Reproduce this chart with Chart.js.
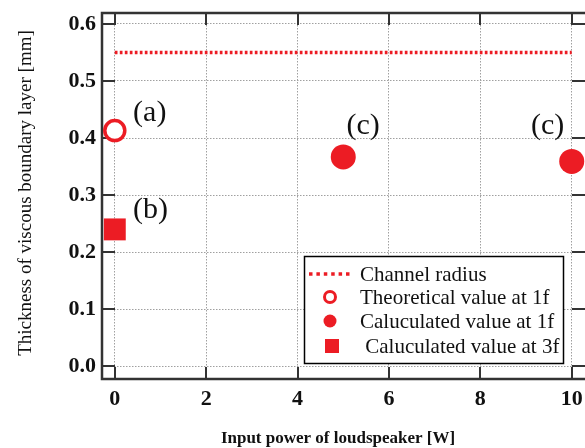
<!DOCTYPE html>
<html>
<head>
<meta charset="utf-8">
<script src="https://cdn.jsdelivr.net/npm/chart.js@4.4.4/dist/chart.umd.min.js"></script>
<style>
  html, body { margin: 0; padding: 0; background: #fff; overflow: hidden; }
  #wrap { width: 600px; height: 448px; }
</style>
</head>
<body>
<div id="wrap"><canvas id="chart" width="600" height="448"></canvas></div>
<script>
// data
const radiusX = [0, 10];
const radiusY = [0.55, 0.55];
const theoX = [0];
const theoY = [0.413];
const calc1fX = [5, 10];
const calc1fY = [0.367, 0.359];
const calc3fX = [0];
const calc3fY = [0.240];

const xTicks = [0, 2, 4, 6, 8, 10];
const yTicks = [0, 0.1, 0.2, 0.3, 0.4, 0.5, 0.6];

const noteText = ['(a)', '(b)', '(c)', '(c)'];
const noteX = [0.40, 0.40, 5.07, 9.11];
const noteY = [0.4445, 0.2735, 0.421, 0.421];

const legendText = ['Channel radius', 'Theoretical value at 1f', 'Caluculated value at 1f', ' Caluculated value at 3f'];

const RED = '#ec1c24';
const SERIF = "'Liberation Serif', 'Times New Roman', serif";

const toPts = (xs, ys) => xs.map((x, i) => ({ x, y: ys[i] }));

// frame with inward ticks, drawn under the marks
const framePlugin = {
  id: 'frame',
  beforeDatasetsDraw(chart) {
    const { ctx, chartArea: a, scales: { x, y } } = chart;
    ctx.save();
    ctx.strokeStyle = '#333';
    ctx.lineWidth = 2;
    ctx.beginPath();
    xTicks.forEach(v => {
      const px = Math.round(x.getPixelForValue(v));
      ctx.moveTo(px, a.bottom); ctx.lineTo(px, a.bottom - 12);
      ctx.moveTo(px, a.top); ctx.lineTo(px, a.top + 12);
    });
    yTicks.forEach(v => {
      const py = Math.round(y.getPixelForValue(v));
      ctx.moveTo(a.left, py); ctx.lineTo(a.left + 13, py);
      ctx.moveTo(a.right, py); ctx.lineTo(a.right - 18, py);
    });
    ctx.stroke();
    ctx.lineWidth = 2.5;
    ctx.strokeRect(a.left, a.top, a.right - a.left, a.bottom - a.top);
    ctx.restore();
  },
  afterDraw(chart) {
    const { ctx, scales: { x, y } } = chart;
    ctx.save();

    // (a) (b) (c) notes
    ctx.fillStyle = '#111';
    ctx.font = '30px ' + SERIF;
    ctx.textAlign = 'left';
    ctx.textBaseline = 'middle';
    noteText.forEach((t, i) => {
      ctx.fillText(t, x.getPixelForValue(noteX[i]), y.getPixelForValue(noteY[i]));
    });

    // legend box
    const bx = 304.5, by = 256.5, bw = 259, bh = 107;
    ctx.fillStyle = '#fff';
    ctx.fillRect(bx, by, bw, bh);
    ctx.strokeStyle = '#000';
    ctx.lineWidth = 1.5;
    ctx.strokeRect(bx, by, bw, bh);

    const rows = [274, 297, 321, 346];
    // dotted line
    ctx.strokeStyle = RED;
    ctx.lineWidth = 3.5;
    ctx.setLineDash([3.5, 3.9]);
    ctx.beginPath();
    ctx.moveTo(309, rows[0]); ctx.lineTo(350, rows[0]);
    ctx.stroke();
    ctx.setLineDash([]);
    // open circle
    ctx.lineWidth = 3;
    ctx.beginPath();
    ctx.arc(330, rows[1], 5.5, 0, Math.PI * 2);
    ctx.fillStyle = '#fff';
    ctx.fill();
    ctx.stroke();
    // filled circle
    ctx.fillStyle = RED;
    ctx.beginPath();
    ctx.arc(330, rows[2], 6.5, 0, Math.PI * 2);
    ctx.fill();
    // square
    ctx.fillRect(325, rows[3] - 7, 14, 14);

    ctx.fillStyle = '#111';
    ctx.font = '21px ' + SERIF;
    ctx.textBaseline = 'middle';
    legendText.forEach((t, i) => ctx.fillText(t, 360, rows[i] + 1));

    // axis titles
    ctx.textAlign = 'center';
    ctx.textBaseline = 'alphabetic';
    ctx.font = 'bold 17px ' + SERIF;
    ctx.fillText('Input power of loudspeaker [W]', 338, 442.5);

    ctx.save();
    ctx.translate(31, 193);
    ctx.rotate(-Math.PI / 2);
    ctx.font = '19px ' + SERIF;
    ctx.fillText('Thickness of viscous boundary layer [mm]', 0, 0);
    ctx.restore();

    ctx.restore();
  }
};

const tickFont = { family: SERIF, size: 22, weight: 'bold', lineHeight: 1 };

new Chart(document.getElementById('chart'), {
  type: 'scatter',
  data: {
    datasets: [
      {
        type: 'line',
        label: legendText[0],
        data: toPts(radiusX, radiusY),
        borderColor: RED,
        borderWidth: 3.5,
        borderDash: [2.7, 2.3],
        pointRadius: 0,
        fill: false
      },
      {
        label: legendText[1],
        data: toPts(theoX, theoY),
        pointStyle: 'circle',
        pointRadius: 10,
        borderWidth: 3.5,
        borderColor: RED,
        backgroundColor: '#fff'
      },
      {
        label: legendText[2],
        data: toPts(calc1fX, calc1fY),
        pointStyle: 'circle',
        pointRadius: 12.5,
        borderWidth: 0,
        backgroundColor: RED
      },
      {
        label: legendText[3],
        data: toPts(calc3fX, calc3fY),
        pointStyle: 'rect',
        pointRadius: 15.5,
        borderWidth: 0,
        backgroundColor: RED
      }
    ]
  },
  options: {
    responsive: false,
    animation: false,
    events: [],
    layout: { autoPadding: false, padding: { top: 13, right: 10, left: 0, bottom: 0 } },
    plugins: { legend: { display: false }, tooltip: { enabled: false } },
    scales: {
      x: {
        type: 'linear',
        min: -0.28,
        max: 10.4,
        afterBuildTicks: s => { s.ticks = xTicks.map(v => ({ value: v })); },
        afterFit: s => { s.height = 69; },
        grid: { color: '#a0a0a0', lineWidth: 1, drawTicks: true, tickLength: 9, tickColor: 'rgba(0,0,0,0)' },
        border: { display: false, dash: [1.5, 1.5] },
        ticks: { font: tickFont, color: '#111', padding: 0, maxRotation: 0, autoSkip: false }
      },
      y: {
        type: 'linear',
        min: -0.022,
        max: 0.619,
        afterBuildTicks: s => { s.ticks = yTicks.map(v => ({ value: v })); },
        afterFit: s => { s.width = 102; s.paddingTop = 0; s.paddingBottom = 0; },
        grid: { color: '#a0a0a0', lineWidth: 1, drawTicks: true, tickLength: 6, tickColor: 'rgba(0,0,0,0)' },
        border: { display: false, dash: [1.5, 1.5] },
        ticks: { font: tickFont, color: '#111', padding: 0, callback: v => v.toFixed(1) }
      }
    }
  },
  plugins: [framePlugin]
});
</script>
</body>
</html>
